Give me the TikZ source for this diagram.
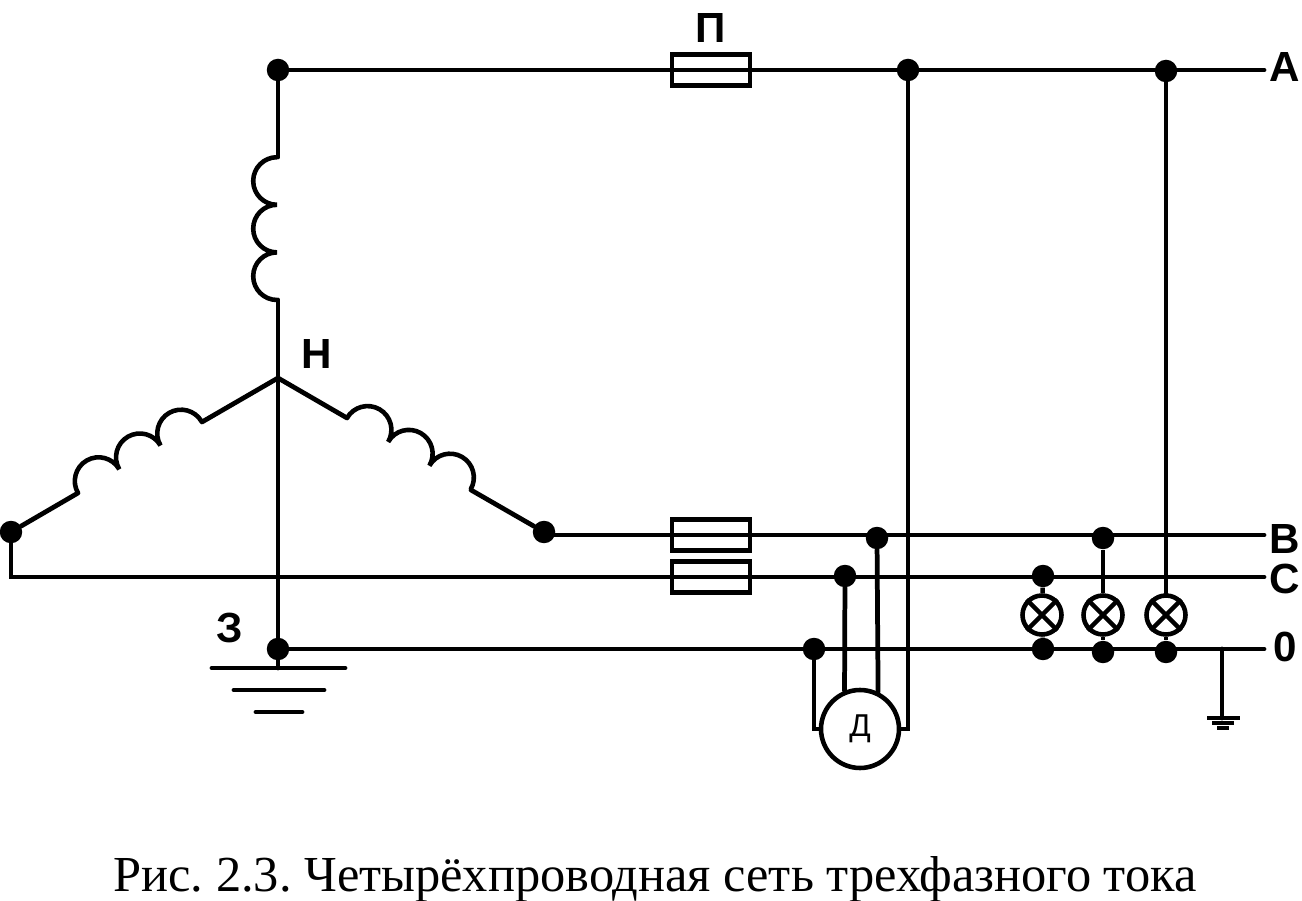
\documentclass[tikz,border=0pt]{standalone}
\usepackage{fontspec}
\setmainfont{Liberation Serif}
\newfontfamily\labelfont{Liberation Sans}
\usetikzlibrary{calc,positioning}

\tikzset{
    wire/.style={line width=2.7pt, line cap=round, line join=miter},
    thinwire/.style={line width=2.6pt},
    dot/.style={circle, fill=black, inner sep=0pt, minimum size=.45cm},
    fuse/.style={draw, line width=2.7pt, inner sep=0pt, minimum width=1.56cm, minimum height=.62cm},
    lamp/.style={circle, draw, thinwire, fill=none, inner sep=0pt, minimum size=.78cm},
    motor/.style={circle, draw, thinwire, inner sep=0pt, minimum size=1.56cm},
    phase/.style={font=\labelfont\bfseries\fontsize{24}{26}\selectfont, inner sep=0pt},
    coil/.pic={
      \draw[line width=2.6pt, line join=bevel] (0,0) arc[start angle=180, delta angle=-180, radius=23.8]
      arc[start angle=180, delta angle=-180, radius=23.8]
      arc[start angle=180, delta angle=-180, radius=23.8];
    }
}

\begin{document}
\begin{tikzpicture}[x=.02cm, y=.02cm]
    \useasboundingbox (0,0) rectangle (1302,900);

    % junctions
    \node[dot] (top) at (278,830) {};
    \node[dot] (aone) at (908,830) {};
    \node[dot] (atwo) at (1166,829) {};
    \node[dot] (left) at (11,368) {};
    \node[dot] (right) at (544,368) {};
    \node[dot] (star) at (278,251) {};
    \node[dot] (mB) at (877,362) {};
    \node[dot] (mC) at (845,324) {};
    \node[dot] (mN) at (814,251) {};
    \node[dot] (lC) at (1043,324) {};
    \node[dot] (lB) at (1103,362) {};
    \node[dot] (lNa) at (1043,251) {};
    \node[dot] (lNb) at (1103,248) {};
    \node[dot] (lNc) at (1166,248) {};

    % free ends of the lines
    \coordinate (hub) at (278,522);
    \coordinate (endA) at (1264,830);
    \coordinate (startB) at (544,365);
    \coordinate (endB) at (1264,365);
    \coordinate (endC) at (1264,323);
    \coordinate (endN) at (1264,251);
    \coordinate (gnd) at (278,232);
    \coordinate (tap) at (1222,251);
    \coordinate (tapend) at (1222,182);

    % windings
    \coordinate (vlow) at (278,600);
    \coordinate (vhigh) at (278,743);
    \coordinate (llow) at (78,407);
    \coordinate (lhigh) at (202,478);
    \coordinate (rhigh) at (347,482);
    \coordinate (rlow) at (471,410);
    \pic[rotate=90] at (277,600) {coil};
    \pic[rotate=30] at (llow) {coil};
    \pic[rotate=-30] at (rhigh) {coil};

    \draw[wire] (top) -- (vhigh);
    \draw[wire] (vlow) -- (hub) -- (star);
    \draw[wire] (hub) -- (lhigh);
    \draw[wire] (llow) -- (left);
    \draw[wire] (hub) -- (rhigh);
    \draw[wire] (rlow) -- (right);

    % lines
    \draw[wire] (top) -- (endA);
    \draw[wire] (startB) -- (endB);
    \draw[wire] (left) |- (endC);
    \draw[wire] (star) -- (endN);
    \node[fuse] (fuseA) at (711,830) {};
    \node[fuse] (fuseB) at (711,365) {};
    \node[fuse] (fuseC) at (711,323) {};

    % motor
    \node[motor] (motor) at (860,171) {\labelfont\fontsize{18}{20}\selectfont Д};
    \draw[wire] (mN) |- (motor.west);
    \draw[wire] (mC) -- (motor.112.5);
    \draw[wire] (mB) -- (motor.64.2);
    \draw[wire] (aone) |- (motor.east);

    % lamps
    \foreach \name/\xpos in {lampa/1042, lampb/1103, lampc/1166} {
      \node[lamp] (\name) at (\xpos,285) {};
      \draw[thinwire] (\name.45) -- (\name.225);
      \draw[thinwire] (\name.135) -- (\name.315);
    }
    \draw[thinwire] (lC) -- (lampa);
    \draw[thinwire] (lNa) -- (lampa);
    \draw[thinwire] (lB) -- (lampb);
    \draw[thinwire] (lNb) -- (lampb);
    \draw[wire] (atwo) -- (lampc);
    \draw[thinwire] (lNc) -- (lampc);

    % earth
    \draw[wire] (star) -- (gnd);
    \draw[wire] ($(gnd)+(-66,0)$) -- ($(gnd)+(67,0)$);
    \draw[wire] ($(gnd)+(-44,-22)$) -- ($(gnd)+(46,-22)$);
    \draw[wire] ($(gnd)+(-22,-44)$) -- ($(gnd)+(24,-44)$);
    \draw[wire] (tap) -- (tapend);
    \draw[thinwire] ($(tapend)+(-15,0)$) -- ($(tapend)+(18,0)$);
    \draw[thinwire] ($(tapend)+(-10,-5)$) -- ($(tapend)+(12,-5)$);
    \draw[thinwire] ($(tapend)+(-5,-10)$) -- ($(tapend)+(7,-10)$);

    % labels
    \node[phase] (lblP) at (711,872) {П};
    \node[phase] (lblA) at (1285,833) {А};
    \node[phase] (lblB) at (1285,361) {В};
    \node[phase] (lblC) at (1285,321) {С};
    \node[phase] (lblN) at (1285,253) {0};
    \node[phase] (lblH) at (317,546) {Н};
    \node[phase] (lblZ) at (230,272) {З};
    \node (caption) at (655,21) {\frenchspacing\fontsize{28.7}{30}\selectfont Рис. 2.3. Четырёхпроводная сеть трехфазного тока};
\end{tikzpicture}
\end{document}
